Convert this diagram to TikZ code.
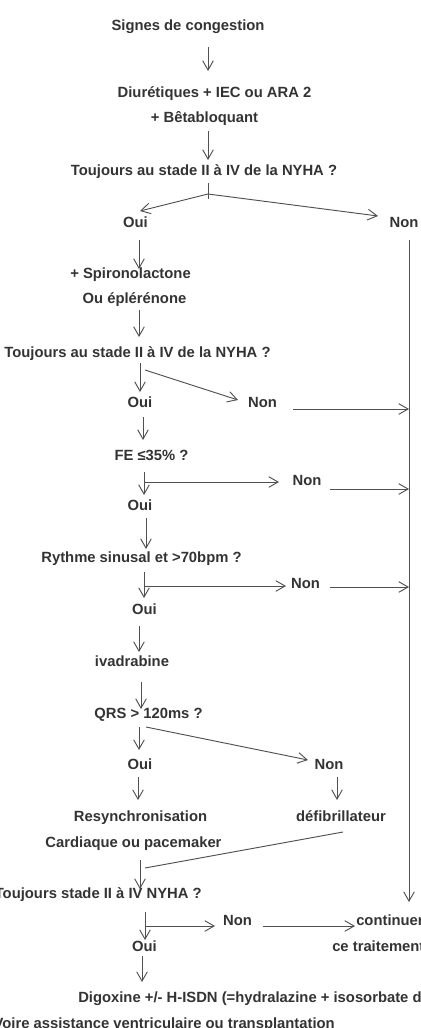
\documentclass[tikz,border=0pt]{standalone}
\usepackage{fontspec}
\setmainfont{Liberation Sans}
\usetikzlibrary{arrows.meta}
\definecolor{ink}{HTML}{333333}
\definecolor{line}{HTML}{505050}
\begin{document}
\begin{tikzpicture}[x=0.75pt, y=-0.75pt,
    txt/.style={font=\fontsize{11.1}{13}\selectfont\bfseries, text=ink,
        inner sep=0pt, text height=8pt, text depth=0pt},
    ln/.style={draw=line, line width=0.7pt},
    arr/.style={ln, -{Straight Barb[length=7pt,width=8pt]}}]
    \clip (0,0) rectangle (421,1028);
    % Steps
    \node [txt] (sig) at (188,25) {Signes de congestion};
    \node [txt] (diu) at (214.5,92) {Diurétiques + IEC ou ARA 2};
    \node [txt] (beta) at (204.5,117) {+ Bêtabloquant};
    \node [txt] (q1) at (204,170) {Toujours au stade II à IV de la NYHA ?};
    \node [txt] (oui1) at (135.5,222) {Oui};
    \node [txt] (non1) at (404,222) {Non};
    \node [txt] (spiro) at (130.5,273) {+ Spironolactone};
    \node [txt] (eple) at (134.5,298) {Ou éplérénone};
    \node [txt] (q2) at (137.5,352) {Toujours au stade II à IV de la NYHA ?};
    \node [txt] (oui2) at (140,402) {Oui};
    \node [txt] (non2) at (262.5,402) {Non};
    \node [txt] (fe) at (151.5,455) {FE ≤35\% ?};
    \node [txt] (non3) at (307,480) {Non};
    \node [txt] (oui3) at (140,505) {Oui};
    \node [txt] (rythme) at (141.5,557) {Rythme sinusal et >70bpm ?};
    \node [txt] (non4) at (305.5,583) {Non};
    \node [txt] (oui4) at (144.5,609) {Oui};
    \node [txt] (ivab) at (132,661) {ivadrabine};
    \node [txt] (qrs) at (148.5,713) {QRS > 120ms ?};
    \node [txt] (oui5) at (140,764) {Oui};
    \node [txt] (non5) at (329,764) {Non};
    \node [txt] (resync) at (140.5,816) {Resynchronisation};
    \node [txt] (defib) at (341,816) {défibrillateur};
    \node [txt] (cardiaque) at (133.5,842) {Cardiaque ou pacemaker};
    \node [txt, anchor=east] (q3) at (202,893) {Toujours stade II à IV NYHA ?};
    \node [txt] (non6) at (237.5,920) {Non};
    \node [txt] (oui6) at (144.5,946) {Oui};
    \node [txt, anchor=west] (continuer) at (356,920) {continuer};
    \node [txt, anchor=west] (traitement) at (332,946) {ce traitement};
    \node [txt, anchor=west] (digo) at (78,997) {Digoxine +/- H-ISDN (=hydralazine + isosorbate dinitrate)};
    \node [txt, anchor=east] (voire) at (335,1023) {Voire assistance ventriculaire ou transplantation};
    % Right rail
    \coordinate (railtop) at ([shift={(5,18)}]non1.center);
    \coordinate (railend) at ([shift={(53,-18)}]continuer.west);
    \draw [arr] (railtop) -- (railend);
    % Main arrows
    \draw [arr] ([shift={(20,22)}]sig.center) -- ([shift={(-6.5,-21)}]diu.center);
    \draw [arr] ([shift={(3.5,14)}]beta.center) -- ([shift={(4,-10)}]q1.center);
    \draw [ln] ([shift={(4,13)}]q1.center) -- ([shift={(4,29)}]q1.center);
    \draw [arr] ([shift={(4,24)}]q1.center) -- ([shift={(4.5,-11)}]oui1.center);
    \draw [arr] ([shift={(4,24)}]q1.center) -- ([shift={(-26,-6)}]non1.center);
    \draw [arr] ([shift={(3.5,18)}]oui1.center) -- ([shift={(8.5,-4)}]spiro.center);
    \draw [arr] ([shift={(4.5,12)}]eple.center) -- ([shift={(1.5,-15)}]q2.center);
    \draw [arr] ([shift={(2.5,11)}]q2.center) -- ([shift={(0,-10)}]oui2.center);
    \draw [arr] ([shift={(7.5,18)}]q2.center) -- ([shift={(-24.5,-2)}]non2.center);
    \draw [arr] ([shift={(3,15)}]oui2.center) -- ([shift={(-8.5,-15)}]fe.center);
    \draw [arr] ([shift={(-7.5,17)}]fe.center) -- ([shift={(4,-10)}]oui3.center);
    \draw [arr] ([shift={(-7.5,27)}]fe.center) -- ([shift={(-28,2)}]non3.center);
    \draw [arr] ([shift={(6,13)}]oui3.center) -- ([shift={(4.5,-8)}]rythme.center);
    \draw [arr] ([shift={(2.5,15)}]rythme.center) -- ([shift={(-0.5,-11)}]oui4.center);
    \draw [arr] ([shift={(2.5,29)}]rythme.center) -- ([shift={(-19.5,3)}]non4.center);
    \draw [arr] ([shift={(-5.5,17)}]oui4.center) -- ([shift={(7,-9)}]ivab.center);
    \draw [arr] ([shift={(9,21)}]ivab.center) -- ([shift={(-7.5,-4)}]qrs.center);
    \draw [arr] ([shift={(-9.5,14)}]qrs.center) -- ([shift={(-1,-14)}]oui5.center);
    \draw [arr] ([shift={(-2.5,14)}]qrs.center) -- ([shift={(-21,-4)}]non5.center);
    \draw [arr] ([shift={(-2,13)}]oui5.center) -- ([shift={(-2.5,-16)}]resync.center);
    \draw [arr] ([shift={(8,13)}]non5.center) -- ([shift={(-4,-16)}]defib.center);
    \draw [ln] ([shift={(2,16)}]defib.center) -- ([shift={(-57,-25)}]q3.east);
    \draw [arr] ([shift={(6.5,18)}]cardiaque.center) -- ([shift={(-62,-4)}]q3.east);
    \draw [arr] ([shift={(-57,19)}]q3.east) -- ([shift={(0.5,-6)}]oui6.center);
    \draw [arr] ([shift={(-57,33)}]q3.east) -- ([shift={(-22.5,6)}]non6.center);
    \draw [arr] ([shift={(25.5,6)}]non6.center) -- ([shift={(-1,6)}]continuer.west);
    \draw [arr] ([shift={(-2.5,10)}]oui6.center) -- ([shift={(64,-15)}]digo.west);
    % Non to rail
    \draw [arr] ([shift={(30.5,7)}]non2.center) coordinate (n2r) -- (n2r -| railtop);
    \draw [arr] ([shift={(23,9)}]non3.center) coordinate (n3r) -- (n3r -| railtop);
    \draw [arr] ([shift={(24.5,4)}]non4.center) coordinate (n4r) -- (n4r -| railtop);
\end{tikzpicture}
\end{document}
